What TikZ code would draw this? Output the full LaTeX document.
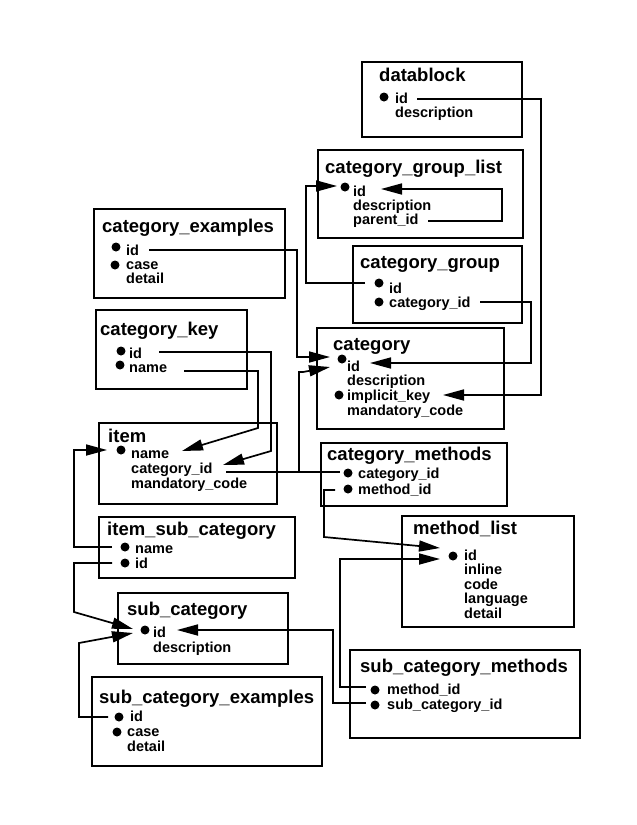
\documentclass[tikz,border=0pt]{standalone}
\usepackage{fontspec}
\setmainfont{Liberation Sans}
\usetikzlibrary{arrows.meta}
\tikzset{
  tbl/.style={draw, line width=1.9pt, anchor=north west, inner sep=0pt},
  ttl/.style={anchor=base west, inner sep=0pt, font=\fontsize{18.5}{20}\selectfont\bfseries},
  fld/.style={anchor=base west, inner sep=0pt, font=\fontsize{14.5}{15}\selectfont\bfseries},
  bul/.style={circle, fill, inner sep=0pt, minimum size=9pt},
  con/.style={line width=1.7pt},
  arr/.style={con, -{Triangle[length=21pt,width=11pt]}},
}
\begin{document}
\begin{tikzpicture}[x=1pt,y=-1pt]
\useasboundingbox[fill=white] (0,0) rectangle (637,825);

% datablock
\node[tbl, minimum width=160pt, minimum height=75pt] (datablock) at (361,61) {};
\node[ttl] (t-datablock) at (379,81) {datablock};
\node[bul] (b-db-id) at (384,97) {};
\node[fld] (db-id) at (395,103) {id};
\node[fld] (db-desc) at (395,117) {description};

% category_group_list
\node[tbl, minimum width=205pt, minimum height=88pt] (cgl) at (317,149) {};
\node[ttl] (t-cgl) at (325,173) {category\_group\_list};
\node[bul] (b-cgl-id) at (345,187) {};
\node[fld] (cgl-id) at (353,196) {id};
\node[fld] (cgl-desc) at (353,210) {description};
\node[fld] (cgl-parent) at (353,224) {parent\_id};

% category_examples
\node[tbl, minimum width=191pt, minimum height=89pt] (cex) at (93,208) {};
\node[ttl] (t-cex) at (102,232) {category\_examples};
\node[bul] (b-cex-id) at (116,247) {};
\node[bul] (b-cex-case) at (115,265) {};
\node[fld] (cex-id) at (126,255) {id};
\node[fld] (cex-case) at (126,269) {case};
\node[fld] (cex-detail) at (126,283) {detail};

% category_group
\node[tbl, minimum width=169pt, minimum height=77pt] (cg) at (352,245) {};
\node[ttl] (t-cg) at (360,268) {category\_group};
\node[bul] (b-cg-id) at (379,283) {};
\node[bul] (b-cg-cid) at (379,302) {};
\node[fld] (cg-id) at (389,293) {id};
\node[fld] (cg-cid) at (389,307) {category\_id};

% category_key
\node[tbl, minimum width=151pt, minimum height=79pt] (ckey) at (95,309) {};
\node[ttl] (t-ckey) at (100,335) {category\_key};
\node[bul] (b-ck-id) at (121,351) {};
\node[bul] (b-ck-name) at (120,365) {};
\node[fld] (ck-id) at (129,358) {id};
\node[fld] (ck-name) at (129,372) {name};

% category
\node[tbl, minimum width=187pt, minimum height=101pt] (cat) at (316,327) {};
\node[ttl] (t-cat) at (333,350) {category};
\node[bul] (b-cat-id) at (342,359) {};
\node[bul] (b-cat-ik) at (339,395) {};
\node[fld] (cat-id) at (347,371) {id};
\node[fld] (cat-desc) at (347,385) {description};
\node[fld] (cat-ik) at (347,400) {implicit\_key};
\node[fld] (cat-mc) at (347,415) {mandatory\_code};

% item
\node[tbl, minimum width=178pt, minimum height=81pt] (item) at (98,422) {};
\node[ttl] (t-item) at (108,442) {item};
\node[bul] (b-it-name) at (121,450) {};
\node[fld] (it-name) at (131,458) {name};
\node[fld] (it-cid) at (131,473) {category\_id};
\node[fld] (it-mc) at (131,488) {mandatory\_code};

% item_sub_category
\node[tbl, minimum width=196pt, minimum height=61pt] (isc) at (98,516) {};
\node[ttl] (t-isc) at (107,535) {item\_sub\_category};
\node[bul] (b-isc-name) at (125,547) {};
\node[bul] (b-isc-id) at (125,563) {};
\node[fld] (isc-name) at (135,553) {name};
\node[fld] (isc-id) at (135,568) {id};

% category_methods
\node[tbl, minimum width=186pt, minimum height=63pt] (cm) at (320,442) {};
\node[ttl] (t-cm) at (327,460) {category\_methods};
\node[bul] (b-cm-cid) at (348,473) {};
\node[bul] (b-cm-mid) at (348,489) {};
\node[fld] (cm-cid) at (358,478) {category\_id};
\node[fld] (cm-mid) at (358,494) {method\_id};

% method_list
\node[tbl, minimum width=172pt, minimum height=111pt] (ml) at (401,515) {};
\node[ttl] (t-ml) at (413,534) {method\_list};
\node[bul] (b-ml-id) at (453,556) {};
\node[fld] (ml-id) at (464,560) {id};
\node[fld] (ml-inline) at (464,574.5) {inline};
\node[fld] (ml-code) at (464,589) {code};
\node[fld] (ml-lang) at (464,603.5) {language};
\node[fld] (ml-detail) at (464,618) {detail};

% sub_category
\node[tbl, minimum width=170pt, minimum height=71pt] (sc) at (117,592) {};
\node[ttl] (t-sc) at (127,615) {sub\_category};
\node[bul] (b-sc-id) at (145,630) {};
\node[fld] (sc-id) at (153,637) {id};
\node[fld] (sc-desc) at (153,652) {description};

% sub_category_examples
\node[tbl, minimum width=230pt, minimum height=89pt] (scex) at (91,676) {};
\node[ttl] (t-scex) at (99,703) {sub\_category\_examples};
\node[bul] (b-scex-id) at (119,717) {};
\node[bul] (b-scex-case) at (117,732) {};
\node[fld] (scex-id) at (130,721) {id};
\node[fld] (scex-case) at (127,736) {case};
\node[fld] (scex-detail) at (127,751) {detail};

% sub_category_methods
\node[tbl, minimum width=230pt, minimum height=88pt] (scm) at (349,649) {};
\node[ttl] (t-scm) at (360,672) {sub\_category\_methods};
\node[bul] (b-scm-mid) at (375,690) {};
\node[bul] (b-scm-sid) at (375,705) {};
\node[fld] (scm-mid) at (387,694) {method\_id};
\node[fld] (scm-sid) at (387,709) {sub\_category\_id};

% connectors
\draw[arr] (417,99) -- (541,99) -- (541,395) -- (443,395);
\draw[arr] (428,221) -- (502,221) -- (502,189) -- (381,189);
\draw[arr] (365,283) -- (306,283) -- (306,186) -- (337,186);
\draw[arr] (480,302) -- (531,302) -- (531,363) -- (370,363);
\draw[arr] (149,250) -- (297,250) -- (297,357) -- (330,357);
\draw[con] (226,472) -- (340,472);
\draw[arr] (299,472) -- (299,372) -- (303,372) -- (330,367);
\draw[arr] (159,352) -- (271,352) -- (271,451) -- (223,465);
\draw[arr] (184,371) -- (258,371) -- (258,428) -- (182,451);
\draw[arr] (112,547) -- (74,547) -- (74,450) -- (107,450);
\draw[arr] (112,563) -- (74,563) -- (74,612) -- (133,629);
\draw[arr] (108,717) -- (79,717) -- (79,643) -- (133,633);
\draw[arr] (366,703) -- (333,703) -- (333,630) -- (177,630);
\draw[arr] (366,687) -- (340,687) -- (340,559) -- (440,559);
\draw[arr] (335,490) -- (324,490) -- (324,537) -- (440,548);
\end{tikzpicture}
\end{document}
